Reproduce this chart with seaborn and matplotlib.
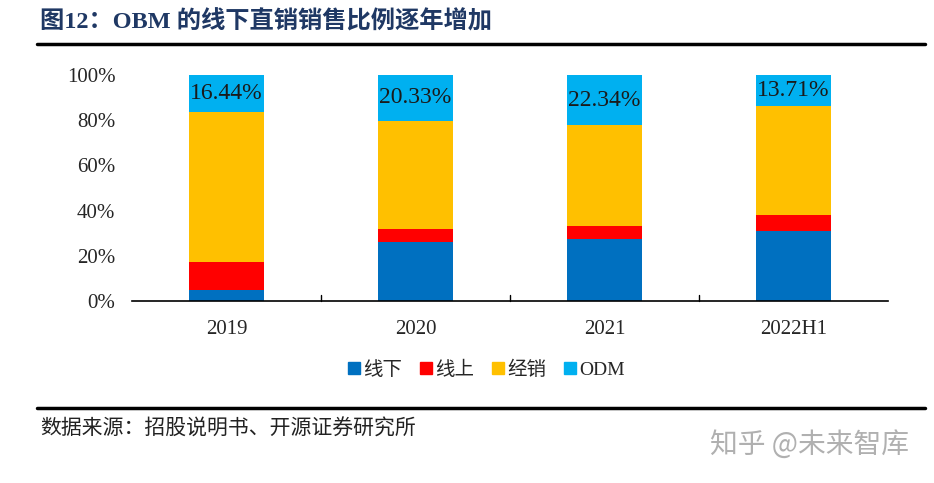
import numpy as np
import pandas as pd
import seaborn as sns
import matplotlib.pyplot as plt
from matplotlib.lines import Line2D

years = ['2019', '2020', '2021', '2022H1']
xianxia = [4.9, 26.0, 27.3, 31.1]     # 线下
xianshang = [12.5, 6.0, 6.0, 7.1]     # 线上
jingxiao = [66.16, 47.67, 44.36, 48.09]  # 经销
odm = [16.44, 20.33, 22.34, 13.71]
odm_labels = ['16.44%', '20.33%', '22.34%', '13.71%']

series = ['线下', '线上', '经销', 'ODM']
colors = ['#0070C0', '#FF0000', '#FFC000', '#00B0F0']

sns.set_style('white')
plt.rcParams['font.family'] = ['Liberation Serif', 'Noto Sans CJK SC', 'DejaVu Sans']

df = pd.DataFrame({'year': years, '线下': xianxia, '线上': xianshang,
                   '经销': jingxiao, 'ODM': odm})
cum = df[series].cumsum(axis=1)

fig = plt.figure(figsize=(9.34, 4.83), dpi=100)
ax = fig.add_axes([0.1413, 0.3768, 0.8096, 0.468])

# stacked bars, drawn from the top layer down
for s, c in zip(series[::-1], colors[::-1]):
    sns.barplot(x=df['year'], y=cum[s], color=c, width=0.4, ax=ax,
                saturation=1, edgecolor='none', linewidth=0)

for i, (lab, top, h) in enumerate(zip(odm_labels, cum['ODM'], odm)):
    ax.text(i, top - h / 2, lab, ha='center', va='center', fontsize=17,
            color='#1a1a1a', family='Liberation Serif')

ax.set_ylim(0, 100)
ax.set_xlim(-0.5, 3.5)
ax.set_yticks(np.arange(0, 101, 20))
ax.set_yticklabels([f'{v}%' for v in range(0, 101, 20)], fontsize=15)
ax.set_xticks(range(4))
ax.set_xticklabels(years, fontsize=15)
ax.set_xlabel('')
ax.set_ylabel('')
for sp in ['top', 'right', 'left']:
    ax.spines[sp].set_visible(False)
ax.spines['bottom'].set_color('black')
ax.spines['bottom'].set_linewidth(1.2)
ax.tick_params(axis='x', length=0, pad=14)
ax.tick_params(axis='y', length=0, pad=12)
for b in [0.5, 1.5, 2.5]:
    ax.plot([b, b], [0, 2.5], color='black', lw=1, clip_on=False)

handles = [Line2D([0], [0], marker='s', color='none', markerfacecolor=c,
                  markeredgecolor=c, markersize=8) for c in colors]
fig.legend(handles, series, loc='center', bbox_to_anchor=(0.52, 0.234),
           ncol=4, frameon=False, handletextpad=0.1,
           columnspacing=0.8, handlelength=0.8,
           prop={'family': ['Liberation Serif', 'Noto Sans CJK SC'], 'size': 14})

fig.text(0.043, 0.955, '图12：OBM 的线下直销销售比例逐年增加', fontsize=17.5,
         fontweight='bold', color='#1F3864', va='center',
         family=['Liberation Serif', 'Noto Sans CJK SC', 'DejaVu Sans'])
fig.add_artist(Line2D([0.04, 0.99], [0.908, 0.908], color='black', lw=2.5))
fig.add_artist(Line2D([0.04, 0.99], [0.155, 0.155], color='black', lw=2.5))
fig.text(0.043, 0.112, '数据来源：招股说明书、开源证券研究所', fontsize=15,
         color='#222222', va='center', family=['Noto Sans CJK SC', 'DejaVu Sans'])
fig.text(0.76, 0.08, '知乎 @未来智库', fontsize=20, color='#b0b0b0',
         va='center', family=['Noto Sans CJK SC', 'DejaVu Sans'])

fig.savefig('out.png', dpi=100)
